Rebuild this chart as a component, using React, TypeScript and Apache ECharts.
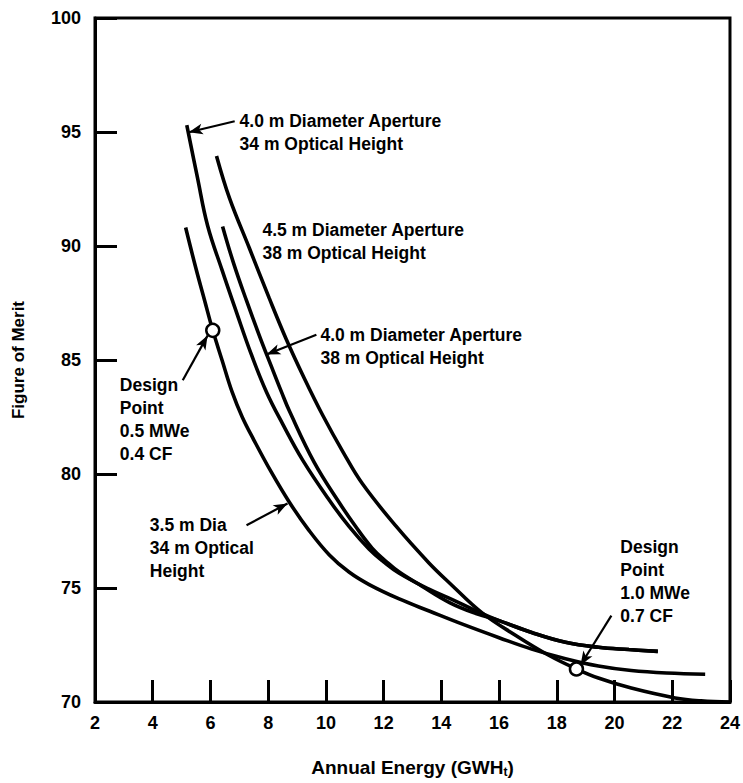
import React, { useEffect, useRef } from "react";
import * as echarts from "echarts";

// ---- data ----
const xMin = 2;
const xMax = 24;
const xStep = 2;
const yMin = 70;
const yMax = 100;
const yStep = 5;

// 4.0 m Diameter Aperture, 34 m Optical Height
const curve40m34: number[][] = [
  [5.18, 95.3], [5.55, 93.0], [5.9, 90.9], [6.4, 88.95], [6.9, 87.1], [7.4, 85.3],
  [7.94, 83.6], [8.5, 82.2], [9.2, 80.6], [10.12, 78.85], [10.8, 77.7], [11.5, 76.7],
  [12.0, 76.15], [12.54, 75.65], [13.57, 74.95], [14.4, 74.48], [15.2, 74.0], [16.0, 73.57],
  [17.13, 73.05], [18.3, 72.62], [19.44, 72.4], [20.5, 72.3], [21.5, 72.22],
];

// 4.0 m Diameter Aperture, 38 m Optical Height
const curve40m38: number[][] = [
  [6.42, 90.86], [6.8, 89.25], [7.25, 87.6], [7.7, 86.05], [8.1, 84.75], [8.46, 83.6],
  [8.74, 82.75], [9.6, 80.5], [10.46, 78.75], [11.0, 77.75], [11.6, 76.75], [12.1, 76.15],
  [12.54, 75.7], [13.3, 75.1], [14.3, 74.35], [15.2, 73.88], [16.0, 73.57], [17.13, 73.05],
  [18.3, 72.62], [19.44, 72.4], [20.5, 72.3], [21.5, 72.22],
];

// 4.5 m Diameter Aperture, 38 m Optical Height
const curve45m38: number[][] = [
  [6.21, 93.95], [6.66, 92.1], [7.35, 89.9], [8.04, 87.7], [8.63, 85.9], [9.25, 84.2],
  [9.88, 82.6], [10.6, 80.95], [11.26, 79.58], [12.43, 77.71], [13.57, 76.1], [14.3, 75.2],
  [15.4, 73.92], [16.58, 72.92], [17.72, 72.05], [18.68, 71.45], [19.44, 71.05],
  [20.58, 70.61], [22.1, 70.18], [23.0, 70.05], [24.0, 70.0],
];

// 3.5 m Dia, 34 m Optical Height
const curve35m34: number[][] = [
  [5.14, 90.81], [5.5, 89.0], [5.8, 87.6], [6.08, 86.3], [6.4, 85.0], [6.75, 83.6],
  [7.1, 82.5], [7.5, 81.5], [8.1, 80.1], [8.74, 78.75], [9.4, 77.55], [10.12, 76.45],
  [10.8, 75.7], [11.5, 75.15], [12.54, 74.52], [13.6, 73.98], [14.8, 73.38],
  [16.0, 72.82], [17.13, 72.32], [18.3, 71.9], [19.44, 71.58], [20.58, 71.38],
  [21.8, 71.27], [23.14, 71.22],
];

// design points
const designPoints: number[][] = [
  [6.08, 86.3],
  [18.68, 71.45],
];

// annotation arrows: [from, to] in data units
const arrows: number[][][] = [
  [[6.84, 95.47], [5.25, 94.99]],
  [[9.67, 86.11], [7.94, 85.24]],
  [[5.04, 84.11], [5.9, 86.07]],
  [[7.25, 77.75], [8.67, 78.71]],
  [[19.89, 73.79], [18.82, 71.61]],
];

// annotation texts, anchored (top-left) in data units
const labelTexts: string[] = [
  "4.0 m Diameter Aperture\n34 m Optical Height",
  "4.5 m Diameter Aperture\n38 m Optical Height",
  "4.0 m Diameter Aperture\n38 m Optical Height",
  "Design\nPoint\n0.5 MWe\n0.4 CF",
  "3.5 m Dia\n34 m Optical\nHeight",
  "Design\nPoint\n1.0 MWe\n0.7 CF",
];
const labelAnchors: number[][] = [
  [7.01, 95.99],
  [7.8, 91.21],
  [9.81, 86.59],
  [2.86, 84.41],
  [3.9, 78.28],
  [20.2, 77.32],
];

const xAxisTitle = "Annual Energy (GWH{sub|t})";
const yAxisTitle = "Figure of Merit";

const FONT = "'Liberation Sans', Arial, Helvetica, sans-serif";

export default function App() {
  const ref = useRef<HTMLDivElement>(null);

  useEffect(() => {
    document.body.style.margin = "0";
    if (!ref.current) return;
    const chart = echarts.init(ref.current, null, { renderer: "svg" });

    const lineSeries = (name: string, data: number[][]) => ({
      name,
      type: "line",
      data,
      showSymbol: false,
      smooth: 0.4,
      lineStyle: { color: "#000", width: 3.6 },
      z: 3,
      silent: true,
    });

    const option: any = {
      animation: false,
      backgroundColor: "#fff",
      textStyle: { fontFamily: FONT },
      grid: {
        left: 95,
        top: 18,
        right: 11,
        bottom: 76,
        show: true,
        borderColor: "#000",
        borderWidth: 3,
        backgroundColor: "transparent",
      },
      xAxis: {
        type: "value",
        min: xMin,
        max: xMax,
        interval: xStep,
        name: xAxisTitle,
        nameLocation: "middle",
        nameGap: 54,
        nameTextStyle: {
          fontFamily: FONT,
          fontWeight: "bold",
          fontSize: 19,
          color: "#000",
          rich: {
            sub: { fontSize: 12, fontWeight: "bold", verticalAlign: "bottom", padding: [10, 0, 0, 0], fontFamily: FONT, color: "#000" },
          },
        },
        axisLine: { show: true, lineStyle: { color: "#000", width: 3 } },
        axisTick: { show: true, inside: true, length: 22, lineStyle: { color: "#000", width: 3 } },
        axisLabel: { color: "#000", fontWeight: "bold", fontSize: 18, fontFamily: FONT, margin: 12 },
        splitLine: { show: false },
      },
      yAxis: {
        type: "value",
        min: yMin,
        max: yMax,
        interval: yStep,
        name: yAxisTitle,
        nameLocation: "middle",
        nameGap: 68,
        nameTextStyle: { fontFamily: FONT, fontWeight: "bold", fontSize: 17, color: "#000" },
        axisLine: { show: true, lineStyle: { color: "#000", width: 3 } },
        axisTick: { show: true, inside: true, length: 22, lineStyle: { color: "#000", width: 3 } },
        axisLabel: { color: "#000", fontWeight: "bold", fontSize: 18, fontFamily: FONT, margin: 14 },
        splitLine: { show: false },
      },
      series: [
        lineSeries("4.0 m / 34 m", curve40m34),
        lineSeries("4.0 m / 38 m", curve40m38),
        lineSeries("4.5 m / 38 m", curve45m38),
        lineSeries("3.5 m / 34 m", curve35m34),
        {
          name: "Design Points",
          type: "scatter",
          data: designPoints,
          symbol: "circle",
          symbolSize: 13,
          itemStyle: { color: "#fff", borderColor: "#000", borderWidth: 2.5, opacity: 1 },
          z: 5,
          silent: true,
          markLine: {
            silent: true,
            symbol: ["none", "arrow"],
            symbolSize: [8, 14],
            label: { show: false },
            lineStyle: { color: "#000", width: 2.2, type: "solid", opacity: 1 },
            data: arrows.map((a) => [{ coord: a[0] }, { coord: a[1] }]),
          },
        },
      ],
    };

    chart.setOption(option);

    const graphics = labelTexts.map((text, i) => {
      const p = chart.convertToPixel({ gridIndex: 0 }, labelAnchors[i]) as number[];
      return {
        type: "text",
        x: p[0],
        y: p[1],
        silent: true,
        style: {
          text,
          fill: "#000",
          fontFamily: FONT,
          fontWeight: "bold",
          fontSize: 17.5,
          lineHeight: 23,
          align: "left",
          verticalAlign: "top",
        },
        z: 10,
      };
    });
    chart.setOption({ graphic: graphics });

    return () => {
      chart.dispose();
    };
  }, []);

  return <div ref={ref} style={{ width: 743, height: 783 }} />;
}
